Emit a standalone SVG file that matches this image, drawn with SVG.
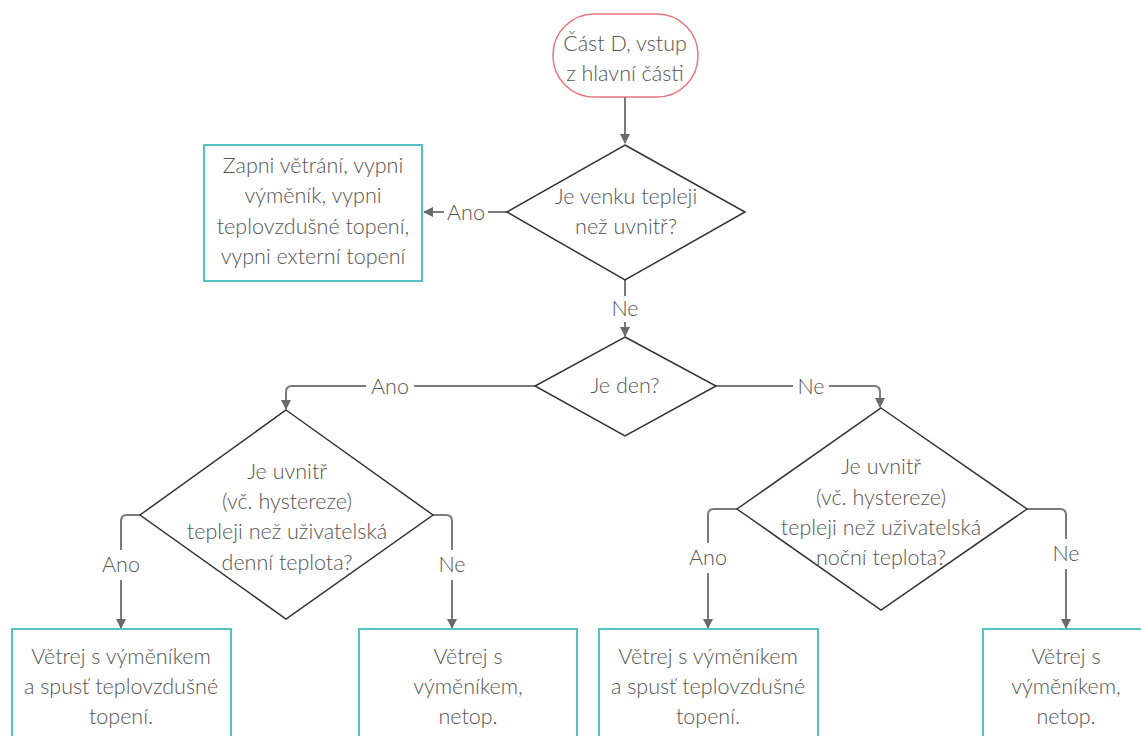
<svg xmlns="http://www.w3.org/2000/svg" width="1141" height="736" viewBox="0 0 1141 736">
<style>
text{font-family:Lato,"Open Sans","Liberation Sans",sans-serif;font-size:21.5px;font-weight:300;fill:#555;text-anchor:middle}
.dia{fill:#fff;stroke:#333;stroke-width:1.5}
.box{fill:#fff;stroke:#52c2c2;stroke-width:2}
.start{fill:#fff;stroke:#e8767a;stroke-width:1.5}
.conn{fill:none;stroke:#7a7a7a;stroke-width:2}
.lbg{fill:#fff}
</style>
<defs>
<marker id="ah" viewBox="0 0 10 10" refX="9" refY="5" markerWidth="5" markerHeight="5" orient="auto" markerUnits="strokeWidth">
<path d="M0,0 L10,5 L0,10 z" fill="#6a6a6a"/>
</marker>
</defs>
<rect width="1141" height="736" fill="#fff"/>
<g id="connectors">
<path class="conn" d="M625,97 V143" marker-end="url(#ah)"/>
<path class="conn" d="M507,212 H424" marker-end="url(#ah)"/>
<path class="conn" d="M625,280 V336" marker-end="url(#ah)"/>
<path class="conn" d="M535,386 H292 Q286,386 286,392 V409" marker-end="url(#ah)"/>
<path class="conn" d="M716,386 H874 Q880,386 880,392 V407" marker-end="url(#ah)"/>
<path class="conn" d="M140,515 H127 Q121,515 121,521 V628" marker-end="url(#ah)"/>
<path class="conn" d="M433,515 H446 Q452,515 452,521 V628" marker-end="url(#ah)"/>
<path class="conn" d="M737,509 H714 Q708,509 708,515 V628" marker-end="url(#ah)"/>
<path class="conn" d="M1027,509 H1060 Q1066,509 1066,515 V628" marker-end="url(#ah)"/>
<rect class="lbg" x="444" y="201" width="44" height="22"/>
<text x="466" y="220">Ano</text>
<rect class="lbg" x="608" y="296" width="34" height="26"/>
<text x="625" y="316">Ne</text>
<rect class="lbg" x="366" y="375" width="48" height="22"/>
<text x="390" y="394">Ano</text>
<rect class="lbg" x="793" y="375" width="36" height="22"/>
<text x="811" y="394">Ne</text>
<rect class="lbg" x="97" y="550" width="48" height="30"/>
<text x="121" y="572">Ano</text>
<rect class="lbg" x="434" y="550" width="36" height="30"/>
<text x="452" y="572">Ne</text>
<rect class="lbg" x="684" y="543" width="48" height="30"/>
<text x="708" y="565">Ano</text>
<rect class="lbg" x="1048" y="539" width="36" height="30"/>
<text x="1066" y="561">Ne</text>
</g>
<g id="start">
<rect class="start" x="553" y="14" width="145" height="83" rx="41" ry="41"/>
<text x="625" y="51">Část D, vstup</text>
<text x="625" y="81">z hlavní části</text>
</g>
<g id="q1">
<polygon class="dia" points="625,145 745,212 625,280 507,212"/>
<text x="626" y="204">Je venku tepleji</text>
<text x="626" y="234">než uvnitř?</text>
</g>
<g id="a1">
<rect class="box" x="204" y="145" width="218" height="136"/>
<text x="313" y="173">Zapni větrání, vypni</text>
<text x="313" y="203">výměník, vypni</text>
<text x="313" y="234">teplovzdušné topení,</text>
<text x="313" y="264">vypni externí topení</text>
</g>
<g id="q2">
<polygon class="dia" points="625,337 716,386 625,436 535,386"/>
<text x="625" y="393">Je den?</text>
</g>
<g id="q3">
<polygon class="dia" points="286,410 433,515 286,619 140,515"/>
<text x="287" y="479">Je uvnitř</text>
<text x="287" y="509">(vč. hystereze)</text>
<text x="287" y="539">tepleji než uživatelská</text>
<text x="287" y="570">denní teplota?</text>
</g>
<g id="q4">
<polygon class="dia" points="881,408 1027,509 881,610 737,509"/>
<text x="881" y="474">Je uvnitř</text>
<text x="881" y="505">(vč. hystereze)</text>
<text x="881" y="535">tepleji než uživatelská</text>
<text x="881" y="565">noční teplota?</text>
</g>
<g id="b1">
<rect class="box" x="12" y="629" width="219" height="120"/>
<text x="121" y="664">Větrej s výměníkem</text>
<text x="121" y="694">a spusť teplovzdušné</text>
<text x="121" y="724">topení.</text>
</g>
<g id="b2">
<rect class="box" x="359" y="629" width="218" height="120"/>
<text x="468" y="664">Větrej s</text>
<text x="468" y="694">výměníkem,</text>
<text x="468" y="724">netop.</text>
</g>
<g id="b3">
<rect class="box" x="599" y="629" width="219" height="120"/>
<text x="708" y="664">Větrej s výměníkem</text>
<text x="708" y="694">a spusť teplovzdušné</text>
<text x="708" y="724">topení.</text>
</g>
<g id="b4">
<rect class="box" x="983" y="629" width="180" height="120"/>
<text x="1066" y="664">Větrej s</text>
<text x="1066" y="694">výměníkem,</text>
<text x="1066" y="724">netop.</text>
</g>
</svg>
